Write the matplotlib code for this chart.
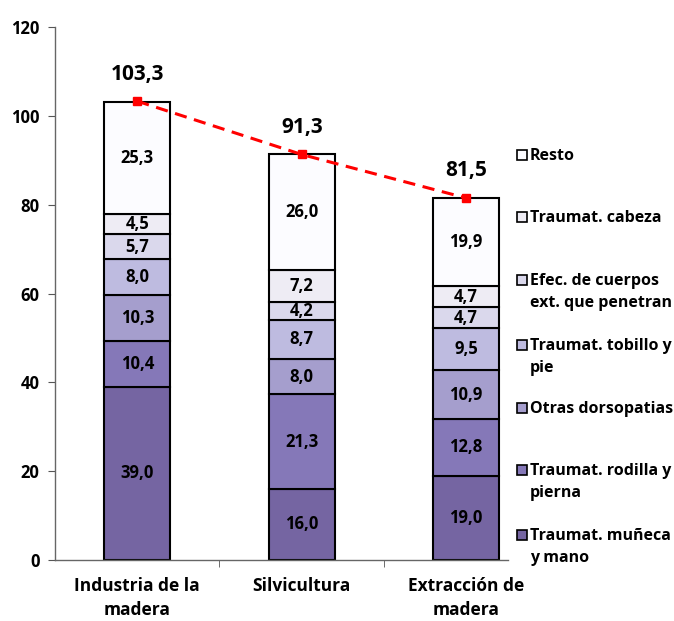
import matplotlib.pyplot as plt
from matplotlib.patches import Rectangle

plt.rcParams['font.family'] = ['Open Sans', 'DejaVu Sans']
plt.rcParams['font.weight'] = 'bold'

categories = ['Industria de la\nmadera', 'Silvicultura', 'Extracción de\nmadera']
series_names = ['Traumat. muñeca\ny mano', 'Traumat. rodilla y\npierna', 'Otras dorsopatias',
                'Traumat. tobillo y\npie', 'Efec. de cuerpos\next. que penetran',
                'Traumat. cabeza', 'Resto']
muneca = [39.0, 16.0, 19.0]
rodilla = [10.4, 21.3, 12.8]
dorsopatias = [10.3, 8.0, 10.9]
tobillo = [8.0, 8.7, 9.5]
cuerpos = [5.7, 4.2, 4.7]
cabeza = [4.5, 7.2, 4.7]
resto = [25.3, 26.0, 19.9]
totals = [103.3, 91.3, 81.5]

series = [muneca, rodilla, dorsopatias, tobillo, cuerpos, cabeza, resto]
colors = ['#7565A2', '#8578B8', '#A59ECD', '#BEBBE0', '#DAD8EC', '#EEECF4', '#FCFCFF']

fig = plt.figure(figsize=(6.74, 6.21), dpi=100)
ax = fig.add_axes([0.0816, 0.0982, 0.672, 0.8583])

x = list(range(len(categories)))
bottom = [0, 0, 0]
for vals, col in zip(series, colors):
    ax.bar(x, vals, bottom=bottom, width=0.4, color=col, edgecolor='black', linewidth=1.5, zorder=2)
    for i, v in enumerate(vals):
        ax.text(x[i], bottom[i] + v / 2, f'{v:.1f}'.replace('.', ','), ha='center', va='center',
                fontsize=12, fontweight='bold', zorder=3)
    bottom = [b + v for b, v in zip(bottom, vals)]

ax.plot(x, totals, color='#FF0000', linestyle=(0, (4, 2.5)), linewidth=2.2, marker='s',
        markersize=6, zorder=4)
for i, t in enumerate(totals):
    ax.annotate(f'{t:.1f}'.replace('.', ','), (x[i], t), xytext=(0, 12), textcoords='offset points',
                ha='center', va='bottom', fontsize=15, fontweight='bold')

ax.set_ylim(0, 120)
ax.set_xlim(-0.5, 2.254)
ax.set_yticks(range(0, 121, 20))
ax.set_xticks(x)
ax.set_xticklabels(categories, fontsize=12.5, fontweight='bold', linespacing=1.45)
ax.set_xticks([0.5, 1.5], minor=True)
ax.tick_params(axis='x', which='major', length=0, pad=12)
ax.tick_params(axis='x', which='minor', length=5, color='#555555')
ax.tick_params(axis='y', length=5, color='#555555', labelsize=12, pad=6)
for lab in ax.get_yticklabels():
    lab.set_fontweight('bold')
for s in ['top', 'right']:
    ax.spines[s].set_visible(False)
for s in ['left', 'bottom']:
    ax.spines[s].set_color('#666666')
    ax.spines[s].set_linewidth(1)

# legend, top entry first
leg_y = [155, 217, 280, 345, 408, 470, 535]
for name, col, yp in zip(series_names[::-1], colors[::-1], leg_y):
    fy = 1 - yp / 621
    fig.patches.append(Rectangle((517 / 674, fy - 5 / 621), 10 / 674, 10 / 621,
                                 transform=fig.transFigure, facecolor=col, edgecolor='black',
                                 linewidth=1.2))
    fig.text(530 / 674, fy + 7 / 621, name, ha='left', va='top', fontsize=11.5,
             fontweight='bold', linespacing=1.5)

fig.savefig('out.png', dpi=100)
